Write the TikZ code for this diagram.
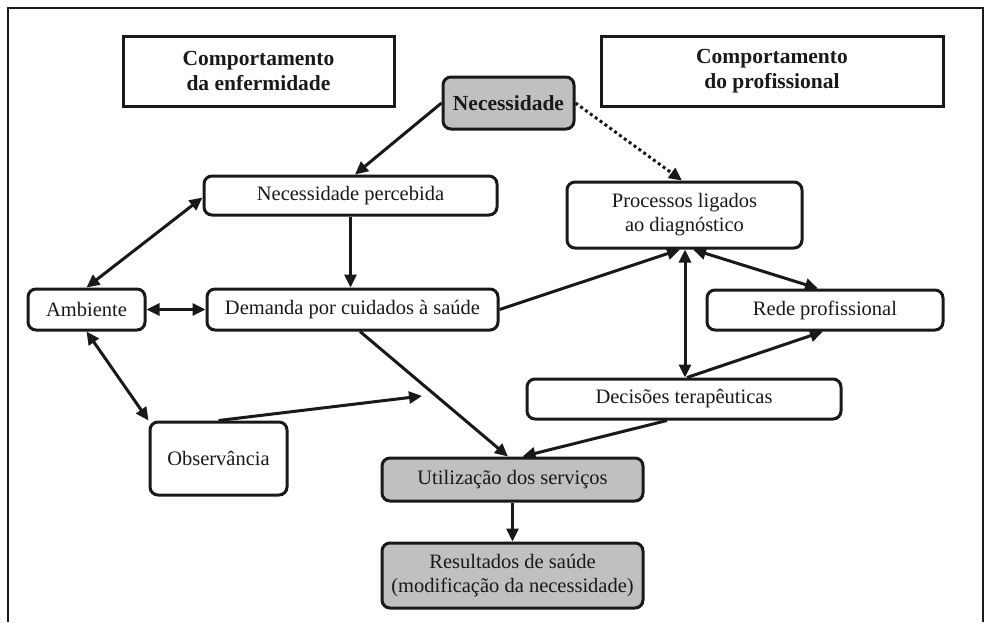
\documentclass[tikz,border=0pt]{standalone}
\usepackage{fontspec}
\setmainfont{Liberation Serif}
\usetikzlibrary{arrows.meta}
\definecolor{boxgray}{RGB}{192,192,192}
\definecolor{ink}{RGB}{25,25,25}
\begin{document}
\begin{tikzpicture}[x=1pt,y=-1pt,
  every node/.style={font=\fontsize{20.5}{24}\selectfont, align=center, inner sep=0pt, text=ink},
  titlebox/.style={draw=ink, line width=3pt, font=\bfseries\fontsize{21.5}{25}\selectfont},
  stage/.style={draw=ink, line width=3pt, rounded corners=8pt},
  shaded/.style={stage, fill=boxgray},
  link/.style={draw=ink, line width=3pt, -{Triangle[length=13pt,width=12pt]}},
  twoway/.style={link, {Triangle[length=13pt,width=12pt]}-{Triangle[length=13pt,width=12pt]}},
  hint/.style={link, dash pattern=on 3pt off 3pt}]
\useasboundingbox (0,0) rectangle (993,622);
% outer frame, open at the bottom
\draw[ink, line width=2.2pt] (8,622) -- (8,8) -- (983,8) -- (983,622);

% headings
\node[titlebox, minimum width=271pt, minimum height=70pt] (comp1) at (258.5,71) {Comportamento\\da enfermidade};
\node[titlebox, minimum width=342pt, minimum height=70pt] (comp2) at (772,71) {Comportamento\\do profissional};

% stages
\node[shaded, minimum width=131pt, minimum height=52pt, font=\bfseries\fontsize{21.5}{25}\selectfont] (nec) at (508.5,103) {Necessidade};
\node[stage, minimum width=293pt, minimum height=39pt] (np) at (350.5,195.5) {Necessidade percebida};
\node[stage, minimum width=235pt, minimum height=66pt] (proc) at (684.5,215) {Processos ligados\\ao diagnóstico};
\node[stage, minimum width=117pt, minimum height=41pt] (amb) at (86.5,309.5) {Ambiente};
\node[stage, minimum width=291pt, minimum height=41pt] (dem) at (352.5,309.5) {Demanda por cuidados à saúde};
\node[stage, minimum width=236pt, minimum height=40pt] (rede) at (825,310) {Rede profissional};
\node[stage, minimum width=314pt, minimum height=40pt] (dec) at (684,399) {Decisões terapêuticas};
\node[stage, minimum width=137pt, minimum height=73pt] (obs) at (218.5,458.5) {Observância};
\node[shaded, minimum width=261pt, minimum height=43pt] (util) at (512.5,479.5) {Utilização dos serviços};
\node[shaded, minimum width=261pt, minimum height=65pt] (res) at (512.5,575.5) {Resultados de saúde\\(modificação da necessidade)};

\coordinate (obsend) at (422,396);

% connectors
\draw[link] (nec.west) -- ([xshift=4.5pt]np.north);
\draw[hint] (nec.east) -- ([xshift=-2.5pt]proc.north);
\draw[link] (np.south) -- (np.south |- dem.north);
\draw[twoway] (amb.north) -- ([yshift=-2pt]np.west);
\draw[twoway] (amb.east) -- (dem.west);
\draw[twoway] (amb.south) -- (obs.north west);
\draw[link] (obs.north) -- (obsend);
\draw[link] ([xshift=7.5pt]dem.south) -- ([xshift=-4.5pt]util.north);
\draw[link] (dem.east) -- ([xshift=-4.5pt]proc.south);
\draw[twoway] ([xshift=0.5pt]proc.south) -- ([xshift=0.5pt]proc.south |- dec.north);
\draw[twoway] ([xshift=8.5pt]proc.south) -- ([xshift=-7pt]rede.north);
\draw[link] ([xshift=3pt]dec.north) -- ([xshift=-2pt]rede.south);
\draw[link] ([xshift=-17pt]dec.south) -- ([xshift=10pt]util.north);
\draw[link] (util.south) -- (res.north);
\end{tikzpicture}
\end{document}
